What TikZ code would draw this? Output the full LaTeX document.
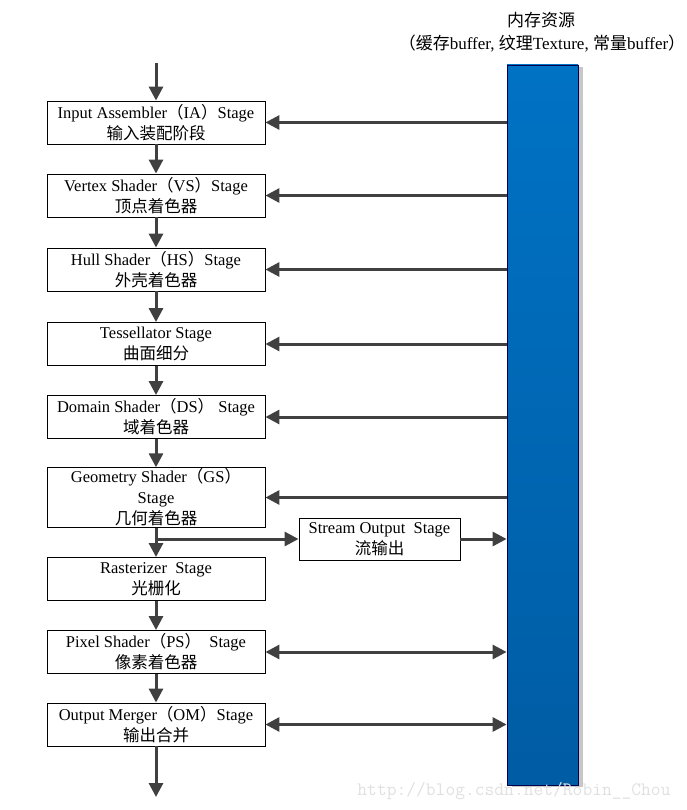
\documentclass[tikz,border=0pt]{standalone}
\usepackage{fontspec}
\setmainfont{Liberation Serif}
\newfontfamily\cjk{Noto Sans CJK SC}
\usetikzlibrary{arrows.meta,positioning,shadows}
\newcommand{\zlp}{{\cjk （}}
\newcommand{\zrp}{{\cjk ）}}
\definecolor{arrowgray}{HTML}{404040}
\definecolor{memtop}{HTML}{0072C4}
\definecolor{membot}{HTML}{005CA4}
\begin{document}
\begin{tikzpicture}[x=1pt,y=-1pt,
    stagebox/.style={draw=black,line width=0.9pt,minimum width=218pt,minimum height=43pt,
      inner sep=1pt,align=center,font=\fontsize{16.5}{21}\selectfont},
    arr/.style={draw=arrowgray,line width=3pt,-{Triangle[length=14pt,width=14pt]}},
    darr/.style={draw=arrowgray,line width=3pt,{Triangle[length=14pt,width=14pt]}-{Triangle[length=14pt,width=14pt]}}]
    \useasboundingbox (0,0) rectangle (686,810);
    % memory bar
    \node (mem) at (542.5,425) [rectangle,draw=black!70!blue,line width=0.8pt,
      top color=memtop,bottom color=membot,minimum width=71pt,minimum height=720pt,
      drop shadow={shadow xshift=5pt,shadow yshift=-2pt,fill=black!22,opacity=1}]{};
    \node (memtitle) at (541,20) [font=\fontsize{17}{21}\selectfont]{\cjk 内存资源};
    \node (memsub) at (542,44) [font=\fontsize{17}{21}\selectfont]
      {\cjk （缓存\rmfamily buffer, \cjk 纹理\rmfamily Texture, \cjk 常量\rmfamily buffer\cjk ）};
    % pipeline stages
    \node (ia) at (156,122.5) [stagebox]{Input Assembler\zlp IA\zrp Stage\\{\cjk 输入装配阶段}};
    \node (vs) at (156,195.5) [stagebox]{Vertex Shader\zlp VS\zrp Stage\\{\cjk 顶点着色器}};
    \node (hs) at (156,269.5) [stagebox]{Hull Shader\zlp HS\zrp Stage\\{\cjk 外壳着色器}};
    \node (ts) at (156,344) [stagebox]{Tessellator Stage\\{\cjk 曲面细分}};
    \node (ds) at (156,417) [stagebox]{Domain Shader\zlp DS\zrp{} Stage\\{\cjk 域着色器}};
    \node (gs) at (156,497.5) [stagebox,minimum height=59pt]{Geometry Shader\zlp GS\zrp\\Stage\\{\cjk 几何着色器}};
    \node (rs) at (156,579) [stagebox]{Rasterizer\ \ Stage\\{\cjk 光栅化}};
    \node (ps) at (156,652) [stagebox]{Pixel Shader\zlp PS\zrp\ \ Stage\\{\cjk 像素着色器}};
    \node (om) at (156,724.5) [stagebox]{Output Merger\zlp OM\zrp Stage\\{\cjk 输出合并}};
    \node (so) at (379.5,539) [stagebox,minimum width=161pt,minimum height=42pt]{Stream Output\ \ Stage\\{\cjk 流输出}};
    \coordinate (in) at (156,63);
    \coordinate (out) at (156,797);
    \coordinate (br) at (156,539);
    % arrows
    \draw[arr] (in) -- (ia.north);
    \foreach \a/\b in {ia/vs,vs/hs,hs/ts,ts/ds,ds/gs,gs/rs,rs/ps,ps/om}
        \draw[arr] (\a.south) -- (\b.north);
    \draw[arr] (om.south) -- (out);
    \foreach \n in {ia,vs,hs,ts,ds,gs}
        \draw[arr] (mem.west |- \n.east) -- (\n.east);
    \draw[arr] (br) -- (so.west);
    \draw[arr] (so.east) -- (mem.west |- so.east);
    \draw[darr] (ps.east) -- (mem.west |- ps.east);
    \draw[darr] (om.east) -- (mem.west |- om.east);
    % watermark
    \node (mark) at (514,791) [text=black!12,font=\fontfamily{lmtt}\fontsize{19}{20}\selectfont]{http://blog.csdn.net/Robin\_\_Chou};
\end{tikzpicture}
\end{document}
